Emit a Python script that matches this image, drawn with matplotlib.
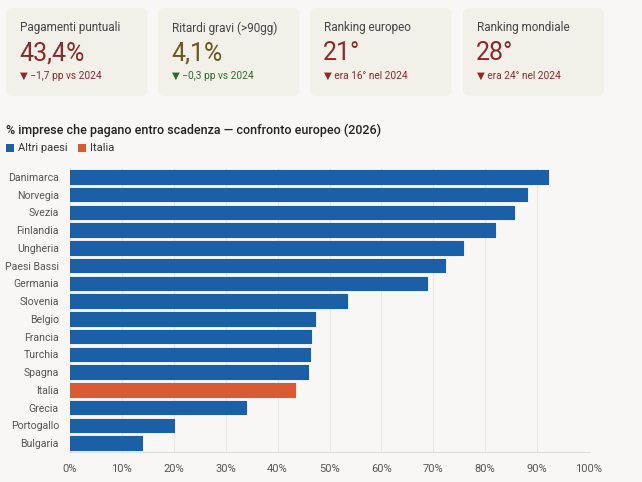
import matplotlib.pyplot as plt
from matplotlib.patches import FancyBboxPatch, Rectangle

plt.rcParams['font.family'] = ['Roboto', 'DejaVu Sans']

# dati
paesi = ['Danimarca', 'Norvegia', 'Svezia', 'Finlandia', 'Ungheria', 'Paesi Bassi',
         'Germania', 'Slovenia', 'Belgio', 'Francia', 'Turchia', 'Spagna', 'Italia',
         'Grecia', 'Portogallo', 'Bulgaria']
valori = [92.1, 88.1, 85.5, 81.9, 75.7, 72.3, 68.8, 53.3, 47.2, 46.4, 46.3, 45.8, 43.4,
          34.0, 20.1, 13.9]
xticks = [0, 10, 20, 30, 40, 50, 60, 70, 80, 90, 100]

card_labels = ['Pagamenti puntuali', 'Ritardi gravi (>90gg)', 'Ranking europeo', 'Ranking mondiale']
card_values = ['43,4%', '4,1%', '21°', '28°']
card_notes = ['▼ −1,7 pp vs 2024', '▼ −0,3 pp vs 2024', '▼ era 16° nel 2024', '▼ era 24° nel 2024']

BLU = '#1b5fa6'
ARANCIO = '#d95b33'
SFONDO = '#f8f7f5'
W, H = 642, 482

fig = plt.figure(figsize=(W / 100, H / 100), dpi=100, facecolor=SFONDO)

def fx(px):
    return px / W

def fy(py):
    return 1 - py / H

# schede in alto
card_x = [6, 158, 310, 463]
val_colors = ['#8c2a2a', '#6b5720', '#8c2a2a', '#8c2a2a']
note_colors = ['#8c2a2a', '#2f6b2a', '#8c2a2a', '#8c2a2a']
for i in range(4):
    x0 = card_x[i]
    fig.patches.append(FancyBboxPatch((fx(x0), fy(96)), fx(141), 88 / H,
                                      boxstyle='round,pad=0,rounding_size=0.012',
                                      transform=fig.transFigure, facecolor='#f2f0e9',
                                      edgecolor='none', zorder=0))
    fig.text(fx(x0 + 14), fy(28), card_labels[i], fontsize=8.5, color='#444444', va='center')
    fig.text(fx(x0 + 13), fy(53), card_values[i], fontsize=18, color=val_colors[i], va='center')
    fig.text(fx(x0 + 14), fy(76), card_notes[i], fontsize=7.3, color=note_colors[i], va='center')

# titolo e legenda
fig.text(fx(6), fy(130), '% imprese che pagano entro scadenza — confronto europeo (2026)',
         fontsize=9, color='#222222', va='center', fontweight='medium')
fig.patches.append(Rectangle((fx(6), fy(152)), fx(8), 8 / H, transform=fig.transFigure,
                             facecolor=BLU, edgecolor='none'))
fig.text(fx(18), fy(148), 'Altri paesi', fontsize=8, color='#333333', va='center')
fig.patches.append(Rectangle((fx(78), fy(152)), fx(8), 8 / H, transform=fig.transFigure,
                             facecolor=ARANCIO, edgecolor='none'))
fig.text(fx(90), fy(148), 'Italia', fontsize=8, color='#333333', va='center')

# grafico a barre
ax = fig.add_axes([fx(70), fy(452), fx(589 - 70), (452 - 168) / H])
ax.set_facecolor(SFONDO)
colori = [ARANCIO if p == 'Italia' else BLU for p in paesi]
ax.barh(range(len(paesi)), valori, height=0.76, color=colori, edgecolor=colori,
        linewidth=0.8, joinstyle='round', zorder=3)
ax.set_yticks(range(len(paesi)))
ax.set_yticklabels(paesi)
ax.set_ylim(len(paesi) - 0.5, -0.5)
ax.set_xlim(0, 100)
ax.set_xticks(xticks)
ax.set_xticklabels([f'{t}%' for t in xticks])
ax.grid(axis='x', color='#e6e6e6', linewidth=0.8, zorder=0)
for s in ['top', 'right']:
    ax.spines[s].set_visible(False)
ax.spines['left'].set_color('#e2e2e2')
ax.spines['bottom'].set_color('#dddddd')
ax.tick_params(axis='both', length=0, labelsize=8, colors='#555555')
ax.tick_params(axis='y', pad=8, labelsize=7.6)
ax.tick_params(axis='x', pad=9)

fig.savefig('out.png', dpi=100, facecolor=SFONDO)
